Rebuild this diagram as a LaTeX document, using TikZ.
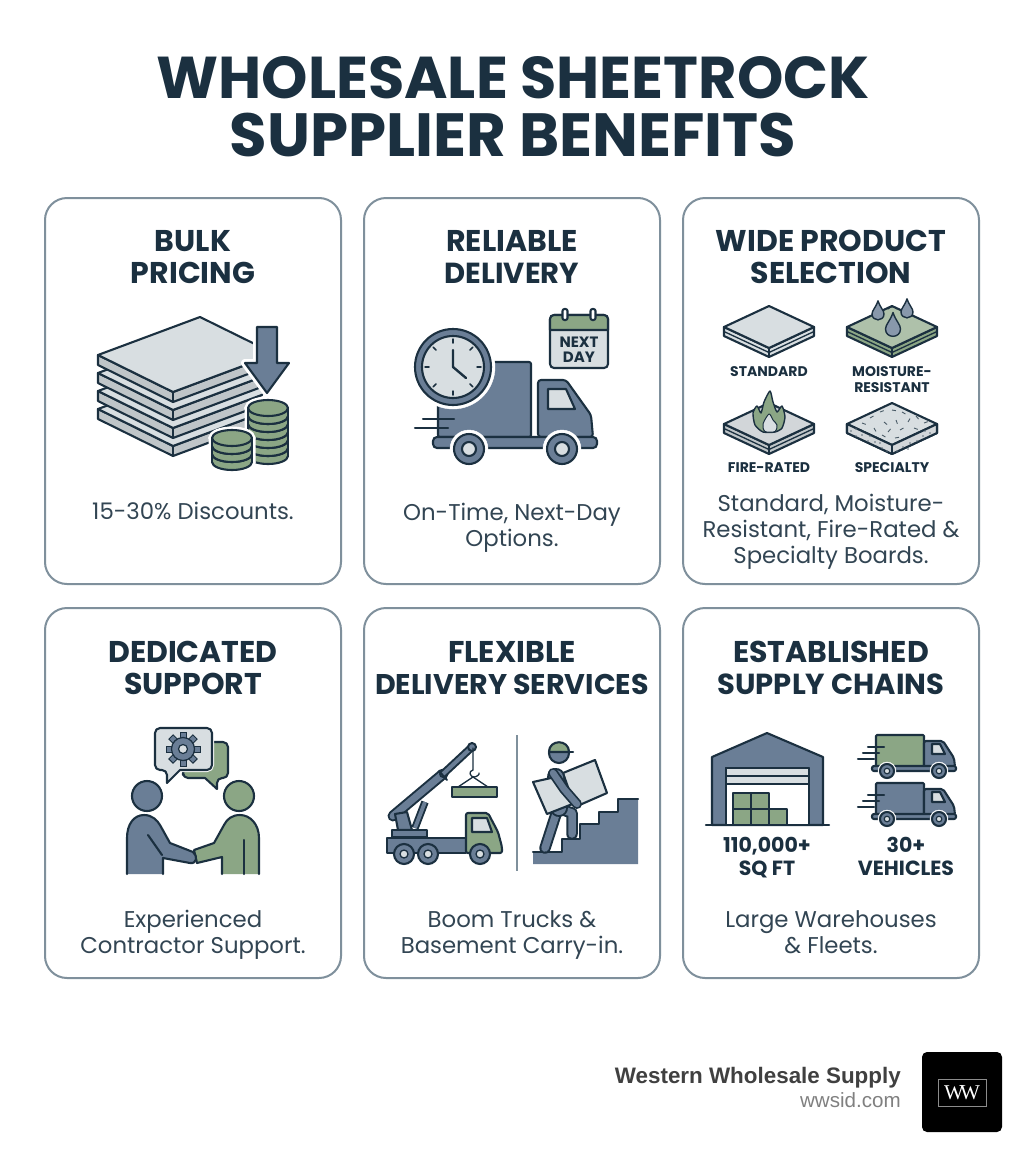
\documentclass[tikz,border=0pt]{standalone}
\usepackage{fontspec}
\setmainfont{Poppins}
\newfontfamily\footfont{Liberation Sans}
\newfontfamily\logofont{Liberation Serif}
\definecolor{ink}{HTML}{1B3040}
\definecolor{slate}{HTML}{6A7E96}
\definecolor{leaf}{HTML}{8BA685}
\definecolor{pale}{HTML}{D8DEE1}
\definecolor{midgrey}{HTML}{BFC5C8}
\definecolor{edge}{HTML}{7F909C}
\tikzset{
  card/.style={draw=edge, line width=2pt, fill=white, rounded corners=22pt},
  headline/.style={text=ink, font=\fontsize{59}{59}\selectfont\bfseries, text height=41pt, text depth=0pt},
  cardtitle/.style={text=ink, font=\fontsize{30}{30}\selectfont\bfseries, text height=21pt, text depth=0pt},
  cardtext/.style={text=ink!90, font=\fontsize{22.8}{23}\selectfont, text height=16pt, text depth=0pt},
  smalltag/.style={text=ink, font=\fontsize{14}{14}\selectfont\bfseries, text height=10pt, text depth=0pt},
  bigtag/.style={text=ink, font=\fontsize{20.5}{21}\selectfont\bfseries, text height=14.5pt, text depth=0pt},
  icon/.style={draw=ink, line width=2.1pt, line join=round, line cap=round},
}
% thin board with a seam, #1,#2 = left corner, #3 top colour, #4 side colour
\newcommand{\miniboard}[4]{
  \draw[icon, fill=#4] (#1,#2) -- (#1+45,#2+21) -- (#1+90,#2) -- (#1+90,#2+9) -- (#1+45,#2+30) -- (#1,#2+9) -- cycle;
  \draw[icon, line width=1.3pt] (#1,#2+4.5) -- (#1+45,#2+25.5) -- (#1+90,#2+4.5);
  \draw[icon, fill=#3] (#1,#2) -- (#1+45,#2-21) -- (#1+90,#2) -- (#1+45,#2+21) -- cycle;
  \draw[icon, line width=1.3pt] (#1+45,#2+21) -- (#1+45,#2+30);
}
% stack of coins, #1 centre, #2 top, #3 coins below the top one
\newcommand{\coinstack}[3]{
  \draw[white, line width=7pt] (#1-20,#2) -- (#1-20,#2+8*#3+8) (#1+20,#2) -- (#1+20,#2+8*#3+8) (#1,#2) ellipse (20 and 8) (#1,#2+8*#3+8) ellipse (20 and 8);
  \foreach \n in {#3,...,0} {
    \draw[icon, fill=leaf] (#1,#2+8*\n+8) ellipse (20 and 8);
    \fill[leaf] (#1-20,#2+8*\n) rectangle (#1+20,#2+8*\n+8);
    \draw[icon] (#1-20,#2+8*\n) -- (#1-20,#2+8*\n+8) (#1+20,#2+8*\n) -- (#1+20,#2+8*\n+8);
    \draw[icon, fill=leaf] (#1,#2+8*\n) ellipse (20 and 8);
  }
}
% small delivery truck, #1,#2 = offset, #3 box colour
\newcommand{\smalltruck}[3]{
  \draw[icon, fill=#3, rounded corners=1pt] (#1+876,#2+735) rectangle (#1+924,#2+767);
  \draw[icon, fill=slate, rounded corners=2pt] (#1+924,#2+741) -- (#1+943,#2+741) -- (#1+954,#2+758) -- (#1+955,#2+767) -- (#1+924,#2+767) -- cycle;
  \draw[icon, fill=pale] (#1+932,#2+744) -- (#1+940,#2+744) -- (#1+945,#2+754) -- (#1+932,#2+754) -- cycle;
  \draw[icon, fill=slate, rounded corners=2pt] (#1+872,#2+766) rectangle (#1+956,#2+771);
  \foreach \wx in {887,939} {
    \draw[white, fill=white] (#1+\wx,#2+771) circle (9);
    \draw[icon, fill=slate] (#1+\wx,#2+771) circle (7);
    \draw[icon, fill=pale, line width=1.2pt] (#1+\wx,#2+771) circle (2.8);
  }
  \draw[icon] (#1+868,#2+747) -- (#1+884,#2+747) (#1+863,#2+753) -- (#1+879,#2+753) (#1+858,#2+759) -- (#1+874,#2+759);
}
\begin{document}
\begin{tikzpicture}[x=1pt, y=-1pt]
\useasboundingbox (0,0) rectangle (1024,1154);
\fill[white] (0,0) rectangle (1024,1154);

% Title
\node[headline] (titlea) at (513,78) {WHOLESALE SHEETROCK};
\node[headline, font=\fontsize{61}{61}\selectfont\bfseries] (titleb) at (513,136) {SUPPLIER BENEFITS};

% Cards
\foreach \x in {45,364,683} {
    \draw[card] (\x,198) rectangle (\x+296,584);
    \draw[card] (\x,608) rectangle (\x+296,978);
}

% Card headings
\node[cardtitle] (bulka) at (193,241) {BULK};
\node[cardtitle] (bulkb) at (193,273) {PRICING};
\node[cardtitle] (reliablea) at (512,241) {RELIABLE};
\node[cardtitle, font=\fontsize{29}{29}\selectfont\bfseries] (reliableb) at (512,273) {DELIVERY};
\node[cardtitle] (widea) at (831,241) {WIDE PRODUCT};
\node[cardtitle] (wideb) at (831,273) {SELECTION};
\node[cardtitle] (supporta) at (193,652) {DEDICATED};
\node[cardtitle] (supportb) at (193,684) {SUPPORT};
\node[cardtitle] (flexa) at (512,652) {FLEXIBLE};
\node[cardtitle, font=\fontsize{28.5}{29}\selectfont\bfseries] (flexb) at (512,684) {DELIVERY SERVICES};
\node[cardtitle] (chaina) at (831,652) {ESTABLISHED};
\node[cardtitle, font=\fontsize{29}{29}\selectfont\bfseries] (chainb) at (831,684) {SUPPLY CHAINS};

% Card texts
\node[cardtext] (bulktext) at (193,511) {15-30\% Discounts.};
\node[cardtext] (reliabletexta) at (512,512) {On-Time, Next-Day};
\node[cardtext] (reliabletextb) at (512,538) {Options.};
\node[cardtext] (widetexta) at (831,503) {Standard, Moisture-};
\node[cardtext] (widetextb) at (831,529) {Resistant, Fire-Rated \&};
\node[cardtext] (widetextc) at (831,555) {Specialty Boards.};
\node[cardtext] (supporttexta) at (193,919) {Experienced};
\node[cardtext] (supporttextb) at (193,945) {Contractor Support.};
\node[cardtext] (flextexta) at (512,919) {Boom Trucks \&};
\node[cardtext] (flextextb) at (512,945) {Basement Carry-in.};
\node[cardtext] (chaintexta) at (831,919) {Large Warehouses};
\node[cardtext] (chaintextb) at (831,945) {\& Fleets.};

% Bulk pricing: stacked boards
\foreach \dy in {54,36,18,0} {
    \draw[icon, fill=midgrey] (98,355+\dy) -- (173,392+\dy) -- (275,354+\dy) -- (275,364+\dy) -- (173,402+\dy) -- (98,365+\dy) -- cycle;
    \draw[icon, fill=pale] (98,355+\dy) -- (200,317+\dy) -- (275,354+\dy) -- (173,392+\dy) -- cycle;
    \draw[icon] (173,392+\dy) -- (173,402+\dy);
}
\fill[white] (262,397) -- (279,372) -- (300,372) -- (300,430) -- (258,430) -- cycle;
% Bulk pricing: arrow and coins
\draw[icon, white, line width=8pt, fill=white] (257,327) -- (277,327) -- (277,363) -- (289,363) -- (267,393) -- (245,363) -- (257,363) -- cycle;
\draw[icon, fill=slate] (257,327) -- (277,327) -- (277,363) -- (289,363) -- (267,393) -- (245,363) -- (257,363) -- cycle;
\coinstack{268}{408}{5}
\coinstack{232}{438}{2}

% Reliable delivery: truck
\draw[icon, fill=slate, rounded corners=2pt] (438,362) rectangle (531,437);
\draw[icon, fill=slate, rounded corners=3pt] (538,437) -- (538,380) -- (566,380) -- (591,415) -- (593,437) -- cycle;
\draw[icon, fill=pale] (548,389) -- (566,389) -- (575,409) -- (548,409) -- cycle;
\draw[icon, fill=slate, rounded corners=4pt] (433,437) rectangle (597,448);
\foreach \wx in {469,562} {
    \draw[white, fill=white] (\wx,449) circle (19);
    \draw[icon, fill=slate] (\wx,449) circle (15);
    \draw[icon, fill=pale] (\wx,449) circle (7);
}
\draw[icon] (423,419) -- (454,419) (415,428) -- (448,428);
% Reliable delivery: clock
\draw[white, fill=white] (453,367) circle (42);
\draw[icon, fill=slate] (453,367) circle (38);
\draw[icon, fill=pale] (453,367) circle (31);
\foreach \a in {0,45,...,315} {
    \draw[icon, line width=1.5pt] (453,367) ++(\a:24) -- ++(\a:4);
}
\draw[icon, line width=2.4pt] (453,350) -- (453,367) -- (466,378);
% Reliable delivery: calendar
\draw[icon, fill=pale, rounded corners=4pt] (550,315) rectangle (608,368);
\draw[icon, fill=leaf] (550,330) -- (550,319) [rounded corners=4pt] -- (550,315) -- (608,315) [sharp corners] -- (608,330) -- cycle;
\draw[icon, fill=white, rounded corners=2pt] (562.5,309) rectangle (567.5,320);
\draw[icon, fill=white, rounded corners=2pt] (590.5,309) rectangle (595.5,320);
\node[text=ink, font=\fontsize{15}{15}\selectfont\bfseries] (nextlabel) at (579,342) {NEXT};
\node[text=ink, font=\fontsize{15}{15}\selectfont\bfseries] (daylabel) at (579,357) {DAY};

% Product selection: four boards
\miniboard{724}{327}{pale}{pale}
\miniboard{847}{327}{leaf!70}{leaf}
\miniboard{724}{424}{midgrey!70}{midgrey}
\miniboard{847}{424}{pale}{midgrey}
\draw[icon, fill=midgrey!70] (847,424) -- (892,445) -- (937,424) -- (937,433) -- (892,454) -- (847,433) -- cycle;
\draw[icon, line width=1.3pt] (892,445) -- (892,454);
\node[smalltag] (standardlabel) at (769,371) {STANDARD};
\node[smalltag] (moisturea) at (892,371) {MOISTURE-};
\node[smalltag] (moistureb) at (892,387) {RESISTANT};
\node[smalltag] (firelabel) at (769,467) {FIRE-RATED};
\node[smalltag] (specialtylabel) at (892,467) {SPECIALTY};
% Drops
\foreach \dx/\dy/\r in {878/314/6, 907/312/6, 893/329/7.5} {
    \draw[icon, line width=1.4pt, fill=slate!80] (\dx,\dy-2.2*\r) .. controls (\dx+0.4*\r,\dy-\r) and (\dx+\r,\dy-0.6*\r) .. (\dx+\r,\dy) .. controls (\dx+\r,\dy+1.3*\r) and (\dx-\r,\dy+1.3*\r) .. (\dx-\r,\dy) .. controls (\dx-\r,\dy-0.6*\r) and (\dx-0.4*\r,\dy-\r) .. cycle;
}
\draw[icon, line width=1pt] (888,309) .. controls (891,306) and (894,306) .. (897,309);
% Flame
\draw[icon, line width=1.4pt, fill=leaf] plot[smooth cycle, tension=0.4] coordinates {(763,432) (755,425) (753,413) (757,406) (761,413) (764,402) (770,391) (773,402) (777,412) (782,406) (785,417) (782,428) (775,432)};
\draw[icon, line width=1pt, fill=pale] plot[smooth cycle, tension=0.5] coordinates {(769,414) (763,424) (765,431.5) (775,431.5) (777,425) (773,420)};
% Specks
\foreach \sx/\sy/\a in {862/423/20, 870/418/-30, 874/428/60, 880/412/-20, 884/422/40, 888/432/-50, 892/410/10, 896/420/70, 900/430/-30, 902/412/30, 908/422/-60, 914/428/20, 916/416/50, 924/423/-20, 882/435/30, 895/438/-10} {
    \draw[ink!80, line width=0.9pt] (\sx,\sy) -- ++(\a:4);
}
\foreach \sx/\sy in {851/431, 856/436, 862/435, 868/441, 875/442, 882/448, 887/451, 897/451, 903/447, 910/443, 917/441, 923/436, 930/433, 856/429, 870/436, 880/443, 908/449, 925/431} {
    \fill[ink!70] (\sx,\sy) circle (0.9);
}

% Dedicated support: bubbles and gear
\draw[icon, fill=leaf, rounded corners=5pt] (183,770) -- (183,778) [sharp corners] -- (205,778) -- (217,789) [rounded corners=5pt] -- (217,778) -- (228,778) -- (228,742) -- (200,742) -- cycle;
\draw[white, line width=4pt, rounded corners=5pt] (155,728) rectangle (212,770);
\draw[icon, fill=pale, rounded corners=5pt] (155,728) -- (155,770) -- (167,770) [sharp corners] -- (167,783) -- (180,770) [rounded corners=5pt] -- (212,770) -- (212,728) -- cycle;
\foreach \a in {0,45,...,315} {
    \fill[slate, draw=ink, line width=1pt, rotate around={\a:(183,749)}] (180,732) rectangle (186,738);
}
\draw[icon, line width=1.2pt, fill=slate] (183,749) circle (11.5);
\draw[icon, line width=1.2pt, fill=pale] (183,749) circle (4.5);
% Dedicated support: people
\draw[icon, fill=slate] (147,796) circle (15);
\draw[icon, fill=leaf] (239,796) circle (15);
\draw[icon, fill=leaf] (259,874) -- (259,838) .. controls (259,824) and (250,815) .. (240,815) .. controls (232,815) and (227,819) .. (224,825) -- (214,843) -- (194,850) -- (197,863) -- (222,857) -- (222,874);
\draw[icon] (244,840) -- (244,874);
\draw[icon, fill=slate] (127,874) -- (127,838) .. controls (127,824) and (134,815) .. (144,815) .. controls (152,815) and (157,820) .. (160,825) -- (170,843) -- (193,852) .. controls (198,856) and (197,864) .. (190,863) -- (163,858) -- (163,874);
\draw[icon] (148,835) -- (162,855);

% Flexible delivery: boom truck
\draw[ink, line width=11pt, line cap=round] (393,816) -- (443,774);
\draw[slate, line width=7pt, line cap=round] (393,816) -- (443,774);
\draw[ink, line width=8pt, line cap=round] (443,774) -- (472,747);
\draw[slate, line width=4pt, line cap=round] (443,774) -- (472,747);
\draw[icon, line width=2pt] (439,771) -- (447,780);
\draw[icon, line width=2pt, fill=slate] (472,747) circle (4);
\draw[ink, line width=7.5pt] (415,828) -- (425,802);
\draw[slate, line width=3.8pt] (415,828) -- (425,802);
\draw[icon, fill=slate] (395,814) -- (407,812) -- (412,830) -- (398,830) -- cycle;
\draw[icon, fill=slate] (392,830) rectangle (427,837);
\draw[icon, line width=1.3pt] (473,748) -- (473,770) .. controls (468,771) and (470,777) .. (474,777) .. controls (477,777) and (480,774) .. (479,773);
\draw[icon, line width=1.3pt] (458,787) -- (473,777) -- (488,787);
\draw[icon, fill=leaf] (452,787) rectangle (497,797);
\draw[icon, fill=slate] (387,838) rectangle (466,853);
\draw[icon, fill=leaf, rounded corners=2pt] (466,853) -- (466,813) -- (488,813) -- (498,832) -- (502,847) -- (502,853) -- cycle;
\draw[icon, fill=pale] (472,818) -- (487,818) -- (492,832) -- (472,832) -- cycle;
\foreach \wx in {404,428,480} {
    \draw[icon, fill=slate] (\wx,854) circle (10);
    \draw[icon, fill=pale, line width=1.3pt] (\wx,854) circle (4);
}
% Flexible delivery: divider
\draw[edge, line width=2pt] (517,735) -- (517,871);
% Flexible delivery: carrier on stairs
\fill[slate] (533,852) -- (562,852) -- (562,839) -- (580,839) -- (580,824) -- (599,824) -- (599,812) -- (618,812) -- (618,799) -- (638,799) -- (638,864) -- (533,864) -- cycle;
\draw[icon] (533,852) -- (562,852) -- (562,839) -- (580,839) -- (580,824) -- (599,824) -- (599,812) -- (618,812) -- (618,799) -- (638,799);
\draw[icon, fill=pale] (563,773) -- (595,760) -- (607,793) -- (575,807) -- cycle;
\draw[ink, line width=11.5pt, line cap=round, line join=round] (566,811) -- (572,813) -- (572,834);
\draw[slate, line width=7.5pt, line cap=round, line join=round] (566,811) -- (572,813) -- (572,834);
\draw[ink, line width=11.5pt, line cap=round] (557,811) -- (545,848);
\draw[slate, line width=7.5pt, line cap=round] (557,811) -- (545,848);
\draw[ink, line width=18pt, line cap=round] (556,777) -- (559,808);
\draw[slate, line width=14pt, line cap=round] (556,777) -- (559,808);
\draw[icon, fill=pale] (533,782) -- (560,776) -- (575,803) -- (547,814) -- cycle;
\draw[ink, line width=10pt, line cap=round, line join=round] (553,773) -- (564,789) -- (577,804);
\draw[slate, line width=6.5pt, line cap=round, line join=round] (553,773) -- (564,789) -- (577,804);
\draw[icon, fill=slate] (559,753) circle (10);
\draw[icon, fill=leaf] (549,752) .. controls (549,739) and (569,739) .. (569,752) -- cycle;
\draw[icon] (569,752) -- (573,752);

% Established supply chains: warehouse
\draw[icon, fill=slate] (712,825) -- (712,757) -- (767,733) -- (823,757) -- (823,825) -- cycle;
\draw[icon, fill=white] (726,768) rectangle (809,825);
\draw[icon, fill=pale] (726,768) rectangle (809,776);
\draw[icon, fill=pale] (726,776) rectangle (809,784);
\foreach \bx/\by in {733/793, 751/793, 733/809, 751/809, 769/809} {
    \draw[icon, fill=leaf, line width=1.8pt] (\bx,\by) rectangle (\bx+18,\by+16);
}
\draw[icon, line width=2.4pt] (706,825) -- (829,825);
\node[bigtag] (sqfta) at (767,845) {110,000+};
\node[bigtag] (sqftb) at (767,868) {SQ FT};
% Established supply chains: fleet
\smalltruck{0}{0}{leaf}
\smalltruck{0}{48}{slate}
\node[bigtag] (fleeta) at (906,845) {30+};
\node[bigtag] (fleetb) at (906,868) {VEHICLES};

% Footer
\node[anchor=east, inner sep=0pt, text=black!75, font=\footfont\fontsize{22.4}{23}\selectfont\bfseries] (brand) at (901,1078) {Western Wholesale Supply};
\node[anchor=east, inner sep=0pt, text=black!50, font=\footfont\fontsize{20.6}{21}\selectfont] (site) at (901,1100) {wwsid.com};
\fill[black, rounded corners=5pt] (922,1052) rectangle (1002,1132);
\node[draw=black!45, line width=0.8pt, minimum width=48pt, minimum height=27pt, inner sep=0pt, text=white, font=\logofont\fontsize{21}{21}\selectfont] (logo) at (962,1092.5) {W\kern-4pt W};

\end{tikzpicture}
\end{document}
